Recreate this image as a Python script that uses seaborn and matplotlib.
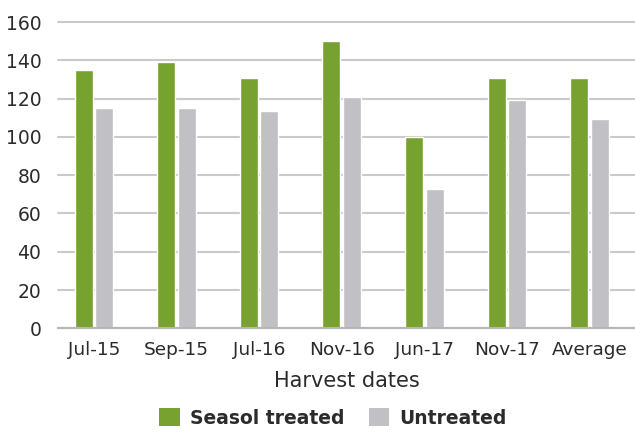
import matplotlib
matplotlib.use("Agg")
import matplotlib.pyplot as plt
import seaborn as sns
import pandas as pd
from matplotlib.patches import Patch

categories = ["Jul-15", "Sep-15", "Jul-16", "Nov-16", "Jun-17", "Nov-17", "Average"]
seasol_treated = [135, 139, 131, 150, 100, 130.5, 131]
untreated = [115, 115, 113.5, 121, 73, 119.5, 109.5]
series_names = ["Seasol treated", "Untreated"]
y_ticks = [0, 20, 40, 60, 80, 100, 120, 140, 160]

GREEN = "#78a22f"
GREY = "#c0c0c5"
TEXT = "#2b2b2b"

df = pd.DataFrame({
    "date": categories * 2,
    "value": seasol_treated + untreated,
    "series": [series_names[0]] * len(categories) + [series_names[1]] * len(categories),
})

sns.set_style("white")
plt.rcParams["font.family"] = ["DejaVu Sans"]

fig = plt.figure(figsize=(6.35, 4.32), dpi=100)
ax = fig.add_axes([58 / 635, 1 - 328.3 / 432, 1 - 58 / 635, (328.3 - 22) / 432])

sns.barplot(data=df, x="date", y="value", hue="series", order=categories,
            hue_order=series_names, palette=[GREEN, GREY], width=0.5, gap=0.13,
            saturation=1, ax=ax, legend=False, zorder=3)

ax.set_ylim(0, 160)
ax.set_xlim(-0.435, 6.55)
ax.set_yticks(y_ticks)
ax.yaxis.grid(True, color="#cacaca", linewidth=1.5, zorder=0)
for gl in ax.get_ygridlines():
    gl.set_clip_on(False)
ax.set_axisbelow(True)
for s in ["top", "right", "left"]:
    ax.spines[s].set_visible(False)
ax.spines["bottom"].set_color("#b5b5b5")
ax.spines["bottom"].set_linewidth(1.5)
ax.spines["bottom"].set_zorder(4)

ax.tick_params(axis="y", length=0, pad=12, labelsize=13.5, labelcolor=TEXT)
ax.tick_params(axis="x", which="major", length=0, pad=9, labelsize=13.3, labelcolor=TEXT)
ax.set_xticks([k + 0.565 for k in range(-1, 6)], minor=True)
ax.tick_params(axis="x", which="minor", length=7, width=1.2, color="#b5b5b5")

ax.set_ylabel("")
ax.set_xlabel("Harvest dates", fontsize=15, color=TEXT, labelpad=9)

handles = [Patch(facecolor=GREEN, edgecolor="none"), Patch(facecolor=GREY, edgecolor="none")]
fig.legend(handles, series_names, loc="center", bbox_to_anchor=(333 / 635, 1 - 418 / 432),
           ncol=2, frameon=False, handlelength=1.1, handleheight=1.1, handletextpad=0.55,
           columnspacing=1.3, prop={"weight": "bold", "size": 13.5}, labelcolor=TEXT)

fig.savefig("out.png", dpi=100)
